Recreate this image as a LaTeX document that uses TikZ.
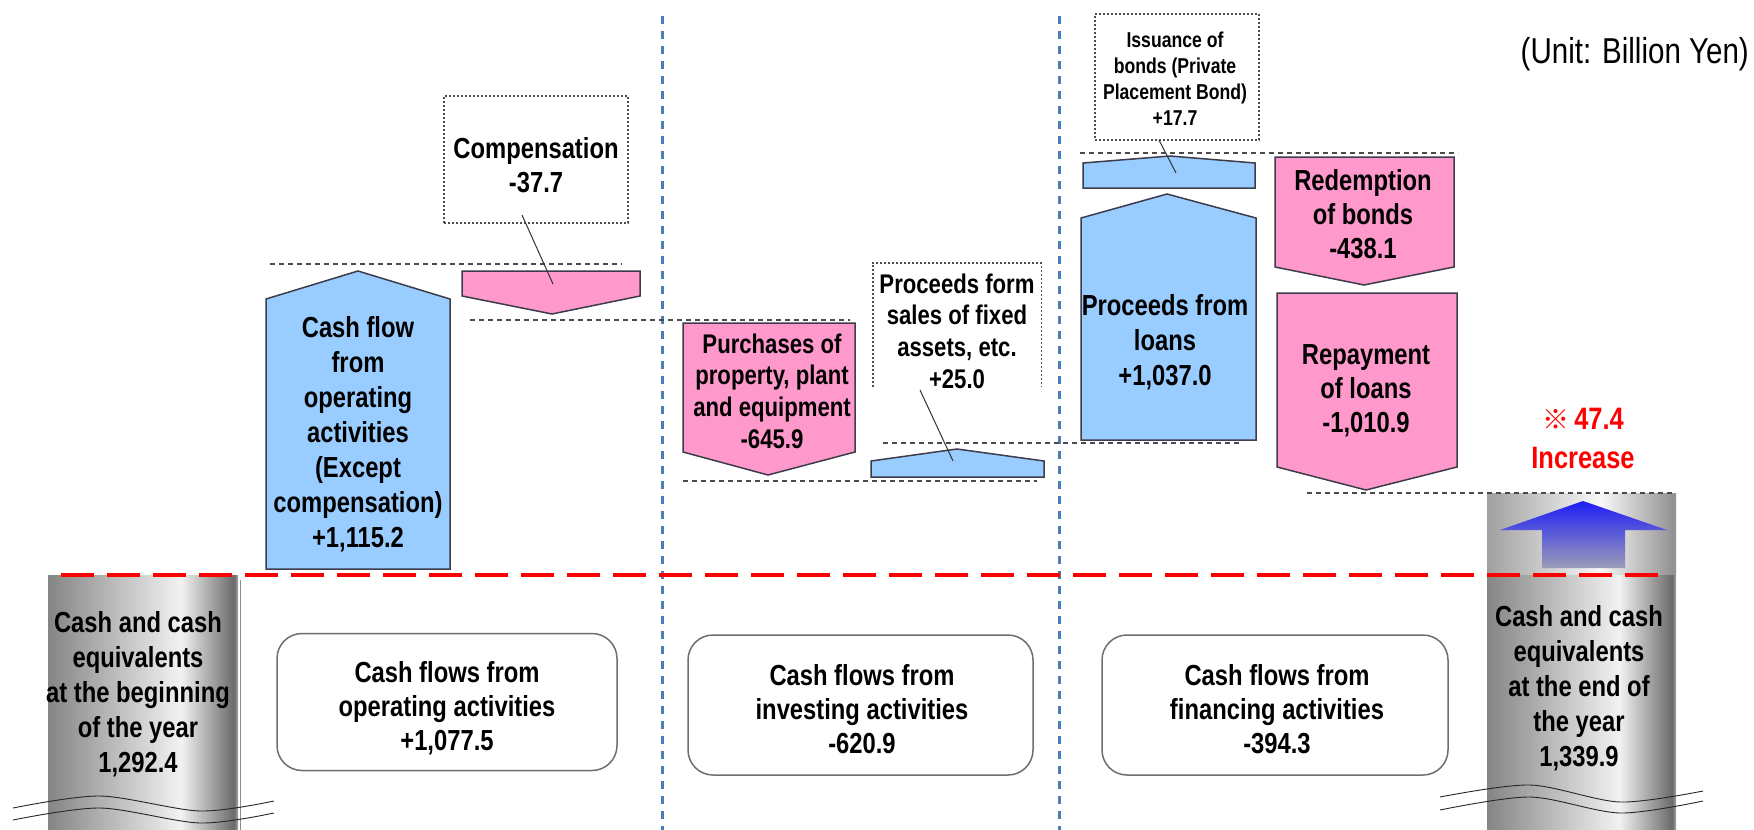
\documentclass[tikz,border=0pt]{standalone}
\usepackage{fontspec}
\setmainfont{Liberation Sans}[FakeStretch=0.82]
\newfontfamily\refmark{Noto Sans CJK JP}
\definecolor{arrblue}{HTML}{99CCFF}
\definecolor{arrpink}{HTML}{FF99CC}
\definecolor{arrline}{HTML}{3C3C4C}
\definecolor{gdash}{HTML}{4A4A4A}
\definecolor{vblue}{HTML}{4A7EBB}
\definecolor{boxline}{HTML}{6E6E6E}
\definecolor{cylA}{HTML}{858585}
\definecolor{cylB}{HTML}{F2F2F2}
\definecolor{cylC}{HTML}{6A6A6A}
\definecolor{cylD}{HTML}{A8A8A8}
\definecolor{cylE}{HTML}{A0A0A0}
\definecolor{cylF}{HTML}{F8F8F8}
\definecolor{cylG}{HTML}{939393}
\definecolor{arrtop}{HTML}{1E1EF5}
\definecolor{arrbot}{HTML}{9C9CB8}
\pgfdeclarehorizontalshading{cylshade}{100bp}{color(0bp)=(cylA); color(25bp)=(cylA); color(60bp)=(cylB); color(74bp)=(cylC); color(75bp)=(cylD); color(100bp)=(cylD)}
\pgfdeclarehorizontalshading{cylshadeup}{100bp}{color(0bp)=(cylE); color(25bp)=(cylE); color(55bp)=(cylF); color(74bp)=(cylG); color(75bp)=(cylG); color(100bp)=(cylG)}
\begin{document}
\begin{tikzpicture}[x=1pt,y=-1pt,
  upbox/.style={fill=arrblue, draw=arrline, line width=1.5pt, line join=miter},
  downbox/.style={fill=arrpink, draw=arrline, line width=1.5pt, line join=miter},
  gline/.style={draw=gdash, line width=1.8pt, dash pattern=on 5pt off 4pt},
  callout/.style={draw=black!70, line width=1.4pt, dash pattern=on 2pt off 2pt, fill=white, inner sep=0pt},
  pointer/.style={draw=black!80, line width=1pt},
  vdash/.style={draw=vblue, line width=3pt, dash pattern=on 8pt off 7pt},
  rdash/.style={draw=red, line width=4.5pt, dash pattern=on 33pt off 13pt},
  flowbox/.style={draw=boxline, line width=1.5pt, rounded corners=25pt, fill=white, inner sep=0pt},
  wave/.style={draw=black!85, line width=0.9pt},
  lbl/.style={align=center, inner sep=0pt, font=\bfseries\fontsize{29}{35}\selectfont},
  lblm/.style={align=center, inner sep=0pt, font=\bfseries\fontsize{27}{31.7}\selectfont},
  lbls/.style={align=center, inner sep=0pt, font=\bfseries\fontsize{21.5}{26}\selectfont},
  lblb/.style={align=center, inner sep=0pt, font=\bfseries\fontsize{29}{34}\selectfont},
]
\useasboundingbox (0,0) rectangle (1754,830);
\fill[white] (0,0) rectangle (1754,830);

% vertical section separators
\coordinate (v1t) at (662,16); \coordinate (v1b) at (662,830);
\coordinate (v2t) at (1059,16); \coordinate (v2b) at (1059,830);
\draw[vdash] (v1t) -- (v1b);
\draw[vdash] (v2t) -- (v2b);

% cylinders
\path[shading=cylshade] (48,575) rectangle (238,830);
\draw[black!45, line width=1pt] (240,580) -- (240,830);
\path[shading=cylshadeup] (1487,493) rectangle (1676,575);
\path[shading=cylshade] (1487,575) rectangle (1676,830);
\shade[top color=arrtop, bottom color=arrbot]
  (1542,568) -- (1542,530) -- (1500,530) -- (1583,501) -- (1667,530) -- (1625,530) -- (1625,568) -- cycle;

% waves
\draw[wave] plot[smooth] coordinates {(13,808) (100,796) (200,811) (274,801)};
\draw[wave] plot[smooth] coordinates {(13,820) (100,808) (200,823) (274,813)};
\draw[wave] plot[smooth] coordinates {(1440,797) (1530,785) (1620,802) (1703,791)};
\draw[wave] plot[smooth] coordinates {(1440,810) (1530,797) (1620,813) (1703,801)};

% gray dashed reference lines
\coordinate (g1a) at (270,264); \coordinate (g1b) at (622,264);
\coordinate (g2a) at (470,320); \coordinate (g2b) at (850,320);
\coordinate (g3a) at (683,481); \coordinate (g3b) at (1037,481);
\coordinate (g4a) at (883,443); \coordinate (g4b) at (1240,443);
\coordinate (g5a) at (1080,153); \coordinate (g5b) at (1458,153);
\coordinate (g6a) at (1307,493); \coordinate (g6b) at (1672,493);
\draw[gline] (g1a) -- (g1b);
\draw[gline] (g2a) -- (g2b);
\draw[gline] (g3a) -- (g3b);
\draw[gline] (g4a) -- (g4b);
\draw[gline] (g5a) -- (g5b);
\draw[gline] (g6a) -- (g6b);

% up arrows
\draw[upbox] (266,569) -- (266,299) -- (358,271) -- (450,299) -- (450,569) -- cycle;
\draw[upbox] (871,477) -- (871,461) -- (957,449) -- (1044,461) -- (1044,477) -- cycle;
\draw[upbox] (1083,188) -- (1083,163) -- (1170,156) -- (1255,163) -- (1255,188) -- cycle;
\draw[upbox] (1081,440) -- (1081,218) -- (1167,194) -- (1256,218) -- (1256,440) -- cycle;

% down arrows
\draw[downbox] (462,271) -- (640,271) -- (640,296) -- (552,314) -- (462,296) -- cycle;
\draw[downbox] (683,323) -- (855,323) -- (855,452) -- (768,475) -- (683,452) -- cycle;
\draw[downbox] (1275,157) -- (1454,157) -- (1454,267) -- (1364,285) -- (1275,267) -- cycle;
\draw[downbox] (1277,293) -- (1457,293) -- (1457,467) -- (1366,490) -- (1277,467) -- cycle;

% red dashed baseline
\coordinate (ra) at (61,575); \coordinate (rb) at (1670,575);
\draw[rdash] (ra) -- (rb);

% callouts
\node[callout, minimum width=184pt, minimum height=127pt] (compbox) at (536,159.5) {};
\node[lblb] (comptext) at (536,165) {Compensation\\-37.7};
\coordinate (compfrom) at (522,215); \coordinate (compto) at (553,284);
\draw[pointer] (compfrom) -- (compto);

\node[inner sep=0pt, minimum width=168pt, minimum height=124pt] (salebox) at (957,325) {};
\draw[draw=black!70, line width=1.4pt, dash pattern=on 2pt off 2pt]
  (salebox.south west) -- (salebox.north west) -- (salebox.north east) -- (salebox.south east);
\node[lblm] (saletext) at (957,331) {Proceeds form\\sales of fixed\\assets, etc.\\+25.0};
\coordinate (salefrom) at (920,390); \coordinate (saleto) at (953,461);
\draw[pointer] (salefrom) -- (saleto);

\node[callout, minimum width=164pt, minimum height=126pt] (issbox) at (1177,77) {};
\node[lbls] (isstext) at (1175,79) {Issuance of\\bonds (Private\\Placement Bond)\\+17.7};
\coordinate (issfrom) at (1159,140); \coordinate (issto) at (1176,173);
\draw[pointer] (issfrom) -- (issto);

% arrow labels
\node[lbl] (optext) at (358,434) {Cash flow\\from\\operating\\activities\\(Except\\compensation)\\+1,115.2};
\node[lblm] (purtext) at (772,391) {Purchases of\\property, plant\\and equipment\\-645.9};
\node[lbl] (loantext) at (1165,342) {Proceeds from\\loans\\+1,037.0};
\node[lblb] (redtext) at (1363,214) {Redemption\\of bonds\\-438.1};
\node[lblb] (reptext) at (1366,391) {Repayment\\of loans\\-1,010.9};

% increase label
\node[align=center, inner sep=0pt, text=red, font=\bfseries\fontsize{31}{39}\selectfont] (inctext) at (1583,438)
  {{\refmark\fontsize{27}{27}\selectfont ※}\,47.4\\Increase};

% cylinder labels
\node[lbl] (begtext) at (138,694) {Cash and cash\\equivalents\\at the beginning\\of the year\\1,292.4};
\node[lbl] (endtext) at (1579,688) {Cash and cash\\equivalents\\at the end of\\the year\\1,339.9};

% bottom summary boxes
\node[flowbox, minimum width=340pt, minimum height=137pt] (opbox) at (447,702) {};
\node[lblb] (opsum) at (447,708) {Cash flows from\\operating activities\\+1,077.5};
\node[flowbox, minimum width=345pt, minimum height=140pt] (invbox) at (860.5,705) {};
\node[lblb] (invsum) at (862,709) {Cash flows from\\investing activities\\-620.9};
\node[flowbox, minimum width=346pt, minimum height=140pt] (finbox) at (1275,705) {};
\node[lblb] (finsum) at (1277,709) {Cash flows from\\financing activities\\-394.3};

% unit
\node[anchor=east, inner sep=0pt, font=\fontsize{36}{40}\selectfont] (unit) at (1749,54) {(Unit: Billion Yen)};
\end{tikzpicture}
\end{document}
